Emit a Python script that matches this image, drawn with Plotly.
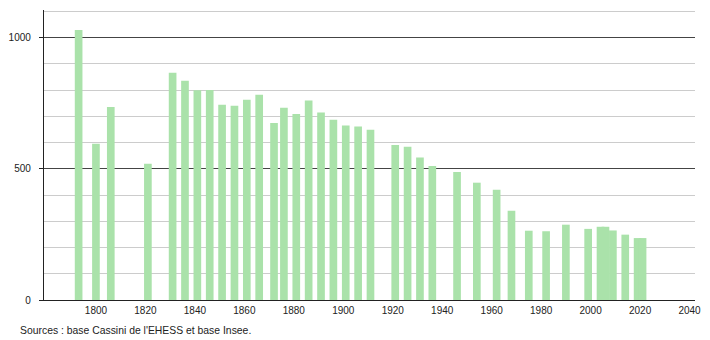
import plotly.graph_objects as go

years = [1793, 1800, 1806, 1821, 1831, 1836, 1841, 1846, 1851, 1856, 1861, 1866,
         1872, 1876, 1881, 1886, 1891, 1896, 1901, 1906, 1911, 1921, 1926, 1931,
         1936, 1946, 1954, 1962, 1968, 1975, 1982, 1990, 1999, 2004, 2006, 2009,
         2014, 2019, 2021]
population = [1029, 595, 735, 519, 866, 835, 799, 800, 744, 740, 763, 782,
              674, 733, 709, 760, 714, 687, 665, 661, 649, 591, 584, 543,
              511, 488, 447, 420, 340, 264, 262, 287, 271, 279, 279, 265,
              249, 236, 236]
x_ticks = [1800, 1820, 1840, 1860, 1880, 1900, 1920, 1940, 1960, 1980, 2000, 2020, 2040]
y_ticks = [0, 500, 1000]
source_text = "Sources : base Cassini de l'EHESS et base Insee."

fig = go.Figure()
fig.add_trace(go.Bar(
    x=years, y=population, width=3.1,
    marker=dict(color="rgb(170,226,170)", line=dict(width=0)),
    hoverinfo="x+y",
))

fig.update_layout(
    width=710, height=340,
    margin=dict(l=43, r=9, t=10, b=40),
    paper_bgcolor="white", plot_bgcolor="white",
    showlegend=False,
    font=dict(family="Liberation Sans, Arial, sans-serif", size=10, color="#222"),
    xaxis=dict(
        range=[1779, 2042.2],
        tickmode="array", tickvals=x_ticks,
        showgrid=False, zeroline=False,
        showline=True, linecolor="#222", linewidth=1.3,
        ticks="", ticklabelstandoff=1,
    ),
    yaxis=dict(
        range=[0, 1105],
        tickmode="array", tickvals=y_ticks,
        showgrid=True, gridcolor="#444", gridwidth=1,
        zeroline=False,
        showline=True, linecolor="#222", linewidth=1.3,
        ticks="outside", ticklen=4, tickcolor="#222", tickwidth=1.3,
        ticklabelstandoff=6,
        minor=dict(dtick=100, tick0=0, showgrid=True, gridcolor="#cccccc", gridwidth=1, ticks=""),
    ),
    annotations=[dict(
        text=source_text, xref="paper", yref="paper",
        x=(17 - 43) / 658, y=-30 / 290, xanchor="left", yanchor="middle",
        showarrow=False, font=dict(size=10.4, color="#222"),
    )],
)

fig.write_html("out.html")
